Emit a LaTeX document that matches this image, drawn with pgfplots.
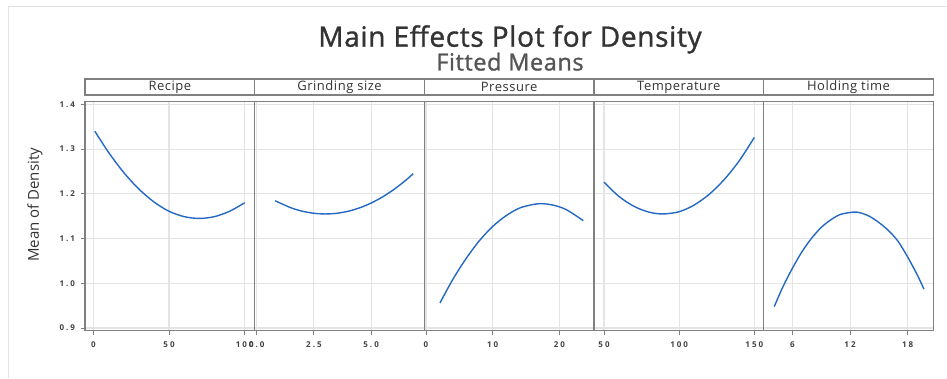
\documentclass[border=0pt]{standalone}
\usepackage{pgfplots}
\pgfplotsset{compat=1.18}
\usepackage{fontspec}
\setmainfont{Open Sans}
\newfontfamily\tickfont[LetterSpace=25]{Open Sans}
\newfontfamily\stripfont[LetterSpace=4]{Open Sans}
\newfontfamily\titlefont[LetterSpace=2.5, FakeBold=1.2]{Open Sans}
\definecolor{curvecol}{RGB}{35,105,195}
\definecolor{framegray}{RGB}{128,128,128}
\definecolor{gridgray}{RGB}{228,228,228}
\definecolor{tickgray}{RGB}{64,64,64}
\definecolor{titlegray}{RGB}{51,51,51}
\definecolor{subgray}{RGB}{85,85,85}
\pgfplotsset{
  panel/.style={
    scale only axis, width=169.7pt, height=229pt,
    anchor=south west,
    ymin=0.894, ymax=1.406,
    ytick={0.9,1.0,1.1,1.2,1.3,1.4},
    grid=major,
    major grid style={gridgray, line width=1.1pt},
    axis line style={framegray, line width=1.2pt},
    tick align=outside,
    major tick length=4.5pt,
    tick style={framegray, line width=0.9pt},
    xtick pos=left, ytick pos=left,
    ticklabel style={font=\tickfont\bfseries\fontsize{8}{8}\selectfont, text=tickgray},
    xticklabel style={yshift=-3pt},
    yticklabel style={xshift=-2pt},
    title style={at={(0.5,1)}, anchor=south, draw=framegray, line width=1.2pt, fill=white,
      minimum width=169.7pt, minimum height=16pt, inner sep=0pt, yshift=0pt,
      font=\stripfont\fontsize{13}{13}\selectfont, text=titlegray},
    every axis plot post/.append style={curvecol, line width=1.4pt, smooth, mark=none},
  },
  inner/.style={panel, yticklabels={}, ytick style={draw=none}},
}
\begin{document}
\begin{tikzpicture}
\useasboundingbox (0,0) rectangle (947pt,378pt);
\draw[gray!22, line width=1.5pt] (8.5pt,0) -- (8.5pt,371.5pt) -- (947pt,371.5pt);
\node[anchor=base, font=\titlefont\fontsize{28}{30}\selectfont, text=titlegray] at (510pt,331.3pt) {Main Effects Plot for Density};
\node[anchor=base, font=\titlefont\fontsize{23.5}{26}\selectfont, text=subgray] at (510pt,307.5pt) {Fitted Means};
\node[rotate=90, font=\fontsize{15}{16}\selectfont, text=titlegray] at (35pt,173pt) {Mean of Density};

% Recipe
\begin{axis}[panel, at={(85pt,47.3pt)}, title={Recipe},
  xmin=-5.5, xmax=106.6, xtick={0,50,100}, xticklabels={0,50,100},
  yticklabels={0.9,1.0,1.1,1.2,1.3,1.4}]
\addplot coordinates {(1,1.340) (10,1.293) (20,1.248) (30,1.211) (40,1.182) (50,1.161) (60,1.149) (70,1.145) (80,1.149) (90,1.161) (100,1.180)};
\end{axis}

% Grinding size
\begin{axis}[inner, at={(254.7pt,47.3pt)}, title={Grinding size},
  xmin=-0.09, xmax=7.33, xtick={0,2.5,5}, xticklabels={0.0,2.5,5.0}]
\addplot coordinates {(0.8,1.1845) (1.5,1.1687) (2.0,1.1611) (2.5,1.1565) (3.0,1.155) (3.5,1.1565) (4.0,1.1611) (4.5,1.1687) (5.0,1.1794) (5.5,1.1931) (6.0,1.2099) (6.5,1.2297) (6.84,1.245)};
\end{axis}

% Pressure
\begin{axis}[inner, at={(424.3pt,47.3pt)}, title={Pressure},
  xmin=-0.25, xmax=25.2, xtick={0,10,20}, xticklabels={0,10,20}]
\addplot coordinates {(2.1,0.956) (4,1.008) (6,1.055) (8,1.095) (10,1.127) (12,1.151) (14,1.168) (16,1.176) (17.3,1.178) (19,1.175) (21,1.165) (23.6,1.140)};
\end{axis}

% Temperature
\begin{axis}[inner, at={(594pt,47.3pt)}, title={Temperature},
  xmin=43.35, xmax=156.25, xtick={50,100,150}, xticklabels={50,100,150}]
\addplot coordinates {(50,1.226) (60,1.194) (70,1.172) (80,1.159) (89.2,1.155) (100,1.160) (110,1.175) (120,1.199) (130,1.232) (140,1.274) (150,1.326)};
\end{axis}

% Holding time
\begin{axis}[inner, at={(763.7pt,47.3pt)}, title={Holding time},
  xmin=3.0, xmax=20.69, xtick={6,12,18}, xticklabels={6,12,18}]
\addplot coordinates {(4.1,0.948) (5,0.992) (6,1.034) (7,1.071) (8,1.101) (9,1.125) (10,1.142) (11,1.154) (12.3,1.159) (13,1.158) (14,1.150) (15,1.136) (16,1.118) (17,1.094) (18,1.059) (19,1.019) (19.7,0.987)};
\end{axis}
\end{tikzpicture}
\end{document}
